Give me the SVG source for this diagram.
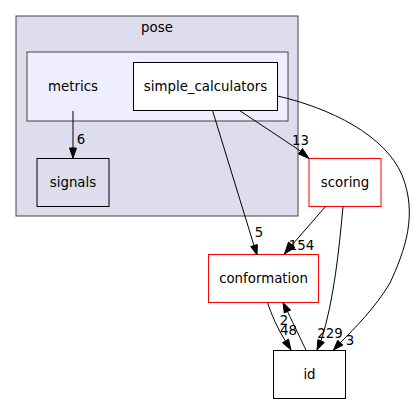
<svg xmlns="http://www.w3.org/2000/svg" width="413" height="404" viewBox="0 0 413 404">
<style>
text{font-family:"DejaVu Sans",sans-serif;font-size:13.33px;fill:#000;text-anchor:middle}
.cl{stroke:#444;stroke-width:1}
.nd{stroke:#000;stroke-width:1}
.red{fill:#fff;stroke:#ff0000;stroke-width:1}
.e path{fill:none;stroke:#000;stroke-width:1}
.e polygon{fill:#000;stroke:#000;stroke-width:1}
</style>
<rect width="413" height="404" fill="#fff"/>
<g id="cluster_pose">
<rect class="cl" x="16" y="16" width="282" height="200" fill="#ddddee"/>
<text x="157" y="31.5">pose</text>
</g>
<g id="cluster_metrics">
<rect class="cl" x="27" y="52" width="261" height="69" fill="#eeeeff"/>
<text x="73" y="90.5">metrics</text>
</g>
<g id="node_simple_calculators">
<rect class="nd" x="133.5" y="62.5" width="144" height="48" fill="#fff"/>
<text x="205.5" y="90.5">simple_calculators</text>
</g>
<g id="node_signals">
<rect class="nd" x="37" y="158.5" width="72" height="48" fill="#ddddee"/>
<text x="73" y="186.5">signals</text>
</g>
<g id="node_scoring">
<rect class="red" x="309" y="158.5" width="72" height="48"/>
<text x="345" y="186.5">scoring</text>
</g>
<g id="node_conformation">
<rect class="red" x="208.5" y="254.5" width="110" height="48"/>
<text x="263.5" y="283">conformation</text>
</g>
<g id="node_id">
<rect class="nd" x="273.5" y="350.5" width="72" height="48" fill="#fff"/>
<text x="309.5" y="379">id</text>
</g>
<g id="connectors" class="e">
<g>
<path d="M73,111 L73,148"/>
<polygon points="69.5,148 73,158 76.5,148"/>
<text x="81" y="144">6</text>
</g>
<g>
<text x="300.5" y="145">13</text>
<path d="M239.5,110.5 L300.5,151"/>
<polygon points="298.5,154 309,158.5 302.5,148.5"/>
</g>
<g>
<path d="M212.5,110.5 L254,245.5"/>
<polygon points="250.7,246.5 257,255 257.3,244.5"/>
<text x="259" y="237">5</text>
</g>
<g>
<text x="301.4" y="250">154</text>
<path d="M325.5,206.5 L292,245"/>
<polygon points="295,247.5 284.5,254 288.5,242"/>
</g>
<g>
<text x="330" y="338">229</text>
<path d="M343,206.5 C339,250 334,300 321.1,340.9"/>
<polygon points="324.3,342.4 317,350 317.9,339.5"/>
</g>
<g>
<path d="M277.5,96 C330,108 385,135 402,175 C418,215 405,250 390,283 C375,308 355,328 340.3,342.7"/>
<polygon points="342.9,345.1 333.5,350 337.7,340.3"/>
<text x="350" y="345">3</text>
</g>
<g>
<path d="M267.5,302.5 C271,313 277,328 285.5,341"/>
<polygon points="282.5,342.8 291,350 288.5,339.2"/>
<text x="288.5" y="335">48</text>
</g>
<g>
<path d="M306,350 C301,340 295,327 287.5,311.5"/>
<polygon points="290.6,310 283,302.5 284.3,313"/>
<text x="284" y="325">2</text>
</g>
</g>
</svg>
